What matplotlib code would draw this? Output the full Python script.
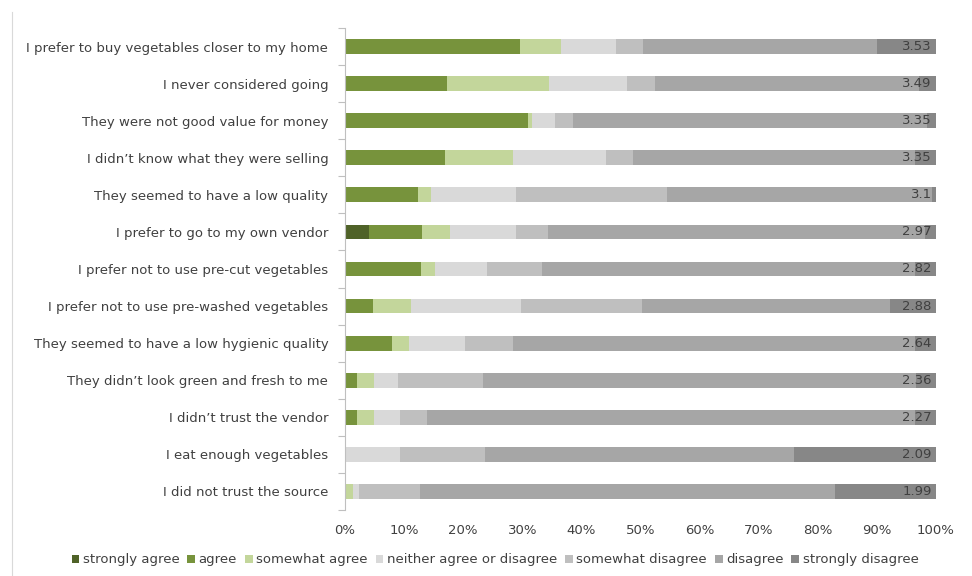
import matplotlib
matplotlib.use("Agg")
import matplotlib.pyplot as plt
import numpy as np

categories = [
    "I prefer to buy vegetables closer to my home",
    "I never considered going",
    "They were not good value for money",
    "I didn\u2019t know what they were selling",
    "They seemed to have a low quality",
    "I prefer to go to my own vendor",
    "I prefer not to use pre-cut vegetables",
    "I prefer not to use pre-washed vegetables",
    "They seemed to have a low hygienic quality",
    "They didn\u2019t look green and fresh to me",
    "I didn\u2019t trust the vendor",
    "I eat enough vegetables",
    "I did not trust the source",
]
series_names = ["strongly agree", "agree", "somewhat agree", "neither agree or disagree",
                "somewhat disagree", "disagree", "strongly disagree"]
strongly_agree = [0, 0, 0, 0, 0, 4.0, 0, 0, 0, 0, 0, 0, 0]
agree = [29.6, 17.2, 30.9, 17.0, 12.4, 9.0, 12.8, 4.8, 8.0, 2.0, 2.1, 0, 0]
somewhat_agree = [6.9, 17.3, 0.7, 11.4, 2.1, 4.7, 2.5, 6.3, 2.8, 2.9, 2.8, 0, 1.4]
neither = [9.4, 13.3, 3.9, 15.7, 14.5, 11.3, 8.7, 18.6, 9.5, 4.0, 4.4, 9.3, 1.0]
somewhat_disagree = [4.5, 4.7, 3.0, 4.6, 25.5, 5.4, 9.4, 20.6, 8.2, 14.4, 4.6, 14.4, 10.3]
disagree = [39.6, 44.6, 60.0, 47.7, 44.8, 63.8, 63.1, 42.0, 68.0, 73.3, 82.6, 52.3, 70.2]
strongly_disagree = [10.0, 2.9, 1.5, 3.6, 0.7, 1.8, 3.5, 7.7, 3.5, 3.4, 3.5, 24.0, 17.1]
means = ["3.53", "3.49", "3.35", "3.35", "3.1", "2.97", "2.82", "2.88", "2.64", "2.36", "2.27", "2.09", "1.99"]
xticks = [0, 10, 20, 30, 40, 50, 60, 70, 80, 90, 100]

colors = ["#4f6228", "#77933c", "#c3d69b", "#d9d9d9", "#bfbfbf", "#a6a6a6", "#878787"]

plt.rcParams['font.family'] = ['DejaVu Sans']
fig = plt.figure(figsize=(9.72, 5.76), dpi=100)
ax = fig.add_axes([345/972, 1-510/576, (936-345)/972, (510-28)/576])

data = [strongly_agree, agree, somewhat_agree, neither, somewhat_disagree, disagree, strongly_disagree]
n = len(categories)
y = np.arange(n)
left = np.zeros(n)
for name, vals, c in zip(series_names, data, colors):
    vals = np.array(vals, dtype=float)
    ax.barh(y, vals, left=left, height=0.4, color=c, label=name, edgecolor='none')
    left += vals

for i, m in enumerate(means):
    ax.annotate(m, xy=(100, i), xytext=(-3, 0), textcoords='offset points',
                ha='right', va='center', fontsize=9.5, color='#404040')

ax.set_ylim(n - 0.5, -0.5)
ax.set_xlim(0, 100)
ax.set_yticks(y)
ax.set_yticklabels(categories, fontsize=9.5, color='#404040')
ax.set_yticks(np.arange(-0.5, n, 1), minor=True)
ax.tick_params(axis='y', which='major', length=0, pad=12)
ax.tick_params(axis='y', which='minor', length=5, color='#bfbfbf', width=0.8)
ax.set_xticks(xticks)
ax.set_xticklabels([f"{t}%" for t in xticks], fontsize=9.5, color='#404040')
ax.tick_params(axis='x', length=0, pad=10)
for s in ['top', 'right', 'bottom']:
    ax.spines[s].set_visible(False)
ax.spines['left'].set_color('#bfbfbf')
ax.spines['left'].set_linewidth(0.8)

fig.legend(loc='center', bbox_to_anchor=(495/972, 1-560/576), ncol=7, frameon=False,
           fontsize=9.5, handlelength=0.6, handleheight=0.6, handletextpad=0.25,
           columnspacing=0.6, labelcolor='#404040')

fig.add_artist(plt.Line2D([12/972, 12/972], [0, 1-12/576], color='#d9d9d9', lw=0.8,
                          transform=fig.transFigure))

fig.savefig("out.png", dpi=100)
